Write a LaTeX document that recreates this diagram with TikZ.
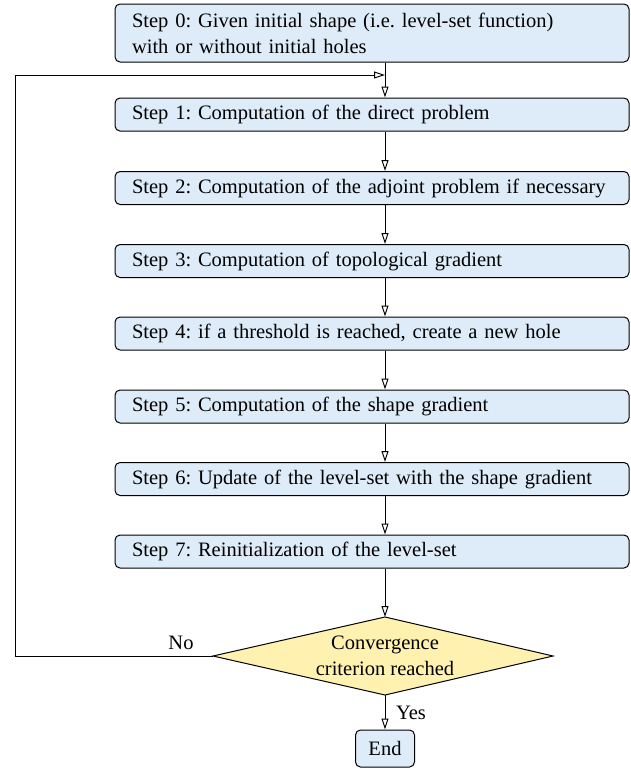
\documentclass[tikz,border=0pt]{standalone}
\usepackage{fontspec}
\setmainfont{Liberation Serif}
\usetikzlibrary{arrows.meta,shapes.geometric}
\definecolor{boxblue}{HTML}{DEECF9}
\definecolor{diayellow}{HTML}{FFF2B0}
\tikzset{
  stepbox/.style={draw=black, line width=1pt, fill=boxblue, rounded corners=5pt,
    minimum width=514pt, text width=480pt, align=left, inner xsep=17pt, inner ysep=0pt,
    minimum height=33pt, font=\fontsize{20.5}{26}\selectfont},
  link/.style={draw=black, line width=1pt, -{Triangle[open,length=11pt,width=7pt]}},
  lbl/.style={font=\fontsize{20.5}{24}\selectfont, inner sep=0pt}
}
\begin{document}
\frenchspacing
\begin{tikzpicture}[x=1pt,y=-1pt]
\useasboundingbox (0,0) rectangle (631,771);
\node[stepbox, minimum height=58pt] (s0) at (372,33) {Step 0: Given initial shape (i.e. level-set function)\\with or without initial holes};
\node[stepbox] (s1) at (372,114.5) {Step 1: Computation of the direct problem};
\node[stepbox] (s2) at (372,188) {Step 2: Computation of the adjoint problem if necessary};
\node[stepbox] (s3) at (372,261) {Step 3: Computation of topological gradient};
\node[stepbox] (s4) at (372,333.5) {Step 4: if a threshold is reached, create a new hole};
\node[stepbox] (s5) at (372,406.5) {Step 5: Computation of the shape gradient};
\node[stepbox] (s6) at (372,479) {Step 6: Update of the level-set with the shape gradient};
\node[stepbox] (s7) at (372,551.5) {Step 7: Reinitialization of the level-set};
% diamond
\coordinate (dc) at (385,656);
\coordinate (dt) at (385,617);
\coordinate (db) at (385,695);
\coordinate (dl) at (213,656);
\coordinate (dr) at (553,656);
\draw[line width=1pt, fill=diayellow] (dt) -- (dr) -- (db) -- (dl) -- cycle;
\node[font=\fontsize{20.5}{26}\selectfont, align=center, inner sep=0pt] (dec) at (dc) {Convergence\\criterion reached};
\node[draw=black, line width=1pt, fill=boxblue, rounded corners=5pt, minimum width=59pt, minimum height=37pt, inner sep=0pt, font=\fontsize{20.5}{24}\selectfont] (end) at (385,748.5) {End};
% merge point
\coordinate (m) at (385,75);
\coordinate (lt) at (15,75);
\coordinate (lb) at (15,656);
\draw[line width=1pt] (s0.south -| m) -- (m);
\draw[link] (m) -- (s1.north -| m);
\draw[link] (dl) -- (lb) -- (lt) -- (m);
\draw[link] (s1.south -| m) -- (s2.north -| m);
\draw[link] (s2.south -| m) -- (s3.north -| m);
\draw[link] (s3.south -| m) -- (s4.north -| m);
\draw[link] (s4.south -| m) -- (s5.north -| m);
\draw[link] (s5.south -| m) -- (s6.north -| m);
\draw[link] (s6.south -| m) -- (s7.north -| m);
\draw[link] (s7.south -| m) -- (dt);
\draw[link] (db) -- (end.north);
\node[lbl] (no) at (181,643) {No};
\node[lbl] (yes) at (411,713) {Yes};
\end{tikzpicture}
\end{document}
